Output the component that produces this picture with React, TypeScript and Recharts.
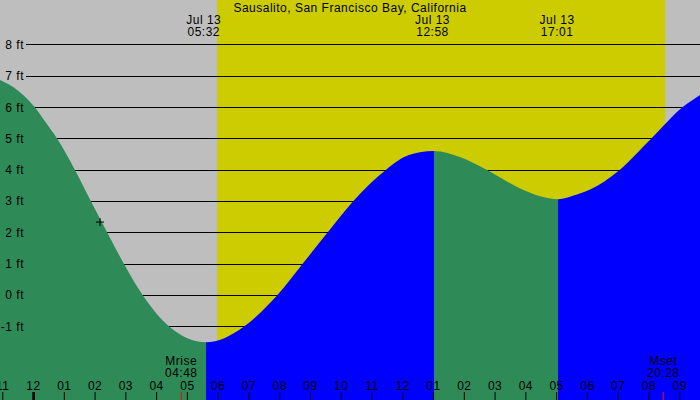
import React from "react";
import {
  ComposedChart,
  Area,
  XAxis,
  YAxis,
  CartesianGrid,
  ReferenceArea,
  ReferenceLine,
  ReferenceDot,
} from "recharts";

// hours from midnight Jul 13, tide height in feet
const tideHours = [
  -1.09, -0.5, 0.05, 0.34, 0.77, 1.35, 1.87, 2.4, 2.94, 3.55, 4.41, 5.0, 5.6,
  6.2, 6.84, 7.92, 8.74, 9.55, 10.38, 11.44, 12.2, 13.0, 13.85, 14.71, 15.8,
  16.44, 17.06, 17.53, 18.07, 19.04, 20.07, 21.08, 21.66,
];
const tideFeet = [
  6.88, 6.54, 6.0, 5.6, 5.0, 4.0, 3.0, 2.0, 1.0, 0.0, -1.0, -1.37, -1.5, -1.37,
  -1.0, 0.0, 1.0, 2.0, 3.0, 4.0, 4.48, 4.61, 4.42, 4.02, 3.42, 3.17, 3.07, 3.18,
  3.37, 4.0, 5.0, 6.0, 6.4,
];

// where the tide turns (falling -> rising -> falling -> rising)
const turnHours = [5.6, 13.0, 17.06];

const extremeHours = [5.533, 12.967, 17.017];
const extremeDate = "Jul 13";
const extremeTimes = ["05:32", "12:58", "17:01"];

const moonHours = [4.8, 20.467];
const moonNames = ["Mrise", "Mset"];
const moonTimes = ["04:48", "20:28"];

const sunrise = 5.97;
const sunset = 20.53;

const nowPoint = { hour: 2.16, feet: 2.34 };

const hourTicks = [
  -1, 0, 1, 2, 3, 4, 5, 6, 7, 8, 9, 10, 11, 12, 13, 14, 15, 16, 17, 18, 19, 20,
  21,
];
const hourLabels = [
  "11", "12", "01", "02", "03", "04", "05", "06", "07", "08", "09", "10", "11",
  "12", "01", "02", "03", "04", "05", "06", "07", "08", "09",
];

const feetTicks = [-1, 0, 1, 2, 3, 4, 5, 6, 7, 8];
const feetDomain: [number, number] = [-3.346, 9.437];

const title = "Sausalito, San Francisco Bay, California";

const GREEN = "#2e8b57";
const BLUE = "#0000ff";
const YELLOW = "#cccc00";
const GRAY = "#bebebe";
const FONT = "'Liberation Sans', Arial, sans-serif";
const FS = 12;

const data = tideHours.map((h, i) => ({ hour: h, feet: tideFeet[i] }));
const hMin = tideHours[0];
const hMax = tideHours[tideHours.length - 1];
const frac = (h: number) => (h - hMin) / (hMax - hMin);

const Txt = ({ x, y, children, anchor = "middle" }: any) => (
  <text
    x={x}
    y={y}
    textAnchor={anchor}
    dominantBaseline="central"
    fontFamily={FONT}
    fontSize={FS}
    letterSpacing={0.5}
    fill="#000"
  >
    {children}
  </text>
);

const Cross = (props: any) => {
  const { cx, cy } = props;
  return (
    <g>
      <line x1={cx - 4} x2={cx + 4} y1={cy} y2={cy} stroke="#000" />
      <line x1={cx} x2={cx} y1={cy - 4} y2={cy + 4} stroke="#000" />
    </g>
  );
};

// grid rows follow the same linear feet scale as the plot
const gridRows = (props: any) => {
  const top = props?.offset?.top ?? 0;
  const h = props?.offset?.height ?? 400;
  const [lo, hi] = feetDomain;
  return feetTicks.map(
    (v) => Math.floor(top + (h * (hi - v)) / (hi - lo)) + 0.5
  );
};

export default function App() {
  return (
    <div
      style={{
        position: "absolute",
        left: 0,
        top: 0,
        width: 700,
        height: 400,
        background: GRAY,
      }}
    >
      <ComposedChart
        width={700}
        height={400}
        data={data}
        margin={{ top: 0, right: 0, bottom: 0, left: 0 }}
      >
        <defs>
          <linearGradient id="tideFill" x1="0" y1="0" x2="1" y2="0">
            <stop offset={0} stopColor={GREEN} />
            <stop offset={frac(turnHours[0])} stopColor={GREEN} />
            <stop offset={frac(turnHours[0])} stopColor={BLUE} />
            <stop offset={frac(turnHours[1])} stopColor={BLUE} />
            <stop offset={frac(turnHours[1])} stopColor={GREEN} />
            <stop offset={frac(turnHours[2])} stopColor={GREEN} />
            <stop offset={frac(turnHours[2])} stopColor={BLUE} />
            <stop offset={1} stopColor={BLUE} />
          </linearGradient>
        </defs>

        <XAxis
          dataKey="hour"
          type="number"
          domain={[hMin, hMax]}
          allowDataOverflow
          ticks={hourTicks}
          hide
        />
        <YAxis
          type="number"
          domain={feetDomain}
          allowDataOverflow
          ticks={feetTicks}
          hide
        />

        {/* daylight */}
        <ReferenceArea
          x1={sunrise}
          x2={sunset}
          fill={YELLOW}
          fillOpacity={1}
          stroke="none"
          zIndex={-200}
        />

        <CartesianGrid
          vertical={false}
          stroke="#000"
          strokeWidth={1}
          x={26}
          width={674}
          zIndex={-100}
          horizontalCoordinatesGenerator={gridRows}
        />

        <Area
          type="monotone"
          dataKey="feet"
          baseValue="dataMin"
          stroke="none"
          fill="url(#tideFill)"
          fillOpacity={1}
          isAnimationActive={false}
          dot={false}
          activeDot={false}
        />

        {/* title */}
        <ReferenceLine
          x={(hMin + hMax) / 2}
          stroke="none"
          shape={() => (
            <Txt x={350} y={7.5}>
              {title}
            </Txt>
          )}
        />

        {/* feet labels */}
        {feetTicks.map((v) => (
          <ReferenceLine
            key={`ft-${v}`}
            y={v}
            stroke="none"
            shape={(p: any) => (
              <Txt x={24} y={p.y1} anchor="end">{`${v} ft`}</Txt>
            )}
          />
        ))}

        {/* hour labels and ticks */}
        {hourTicks.map((h, i) => (
          <ReferenceLine
            key={`hr-${i}`}
            x={h}
            stroke="none"
            shape={(p: any) => (
              <g>
                <Txt x={p.x1} y={386}>
                  {hourLabels[i]}
                </Txt>
                {h === 0 ? (
                  <rect x={p.x1 - 1.2} y={392} width={2.6} height={8} fill="#000" />
                ) : (
                  <line x1={p.x1} x2={p.x1} y1={392} y2={400} stroke="#000" />
                )}
              </g>
            )}
          />
        ))}

        {/* tide extremes */}
        {extremeHours.map((h, i) => (
          <ReferenceLine
            key={`ex-${i}`}
            x={h}
            stroke="none"
            shape={(p: any) => (
              <g>
                <Txt x={p.x1} y={20}>
                  {extremeDate}
                </Txt>
                <Txt x={p.x1} y={32}>
                  {extremeTimes[i]}
                </Txt>
              </g>
            )}
          />
        ))}

        {/* moon rise / set */}
        {moonHours.map((h, i) => (
          <ReferenceLine
            key={`moon-${i}`}
            x={h}
            stroke="none"
            shape={(p: any) => (
              <g>
                <Txt x={p.x1} y={361}>
                  {moonNames[i]}
                </Txt>
                <Txt x={p.x1} y={373}>
                  {moonTimes[i]}
                </Txt>
                <line
                  x1={p.x1}
                  x2={p.x1}
                  y1={392}
                  y2={400}
                  stroke="#ff0000"
                  strokeWidth={1}
                />
              </g>
            )}
          />
        ))}

        <ReferenceDot
          x={nowPoint.hour}
          y={nowPoint.feet}
          shape={<Cross />}
        />
      </ComposedChart>
    </div>
  );
}
